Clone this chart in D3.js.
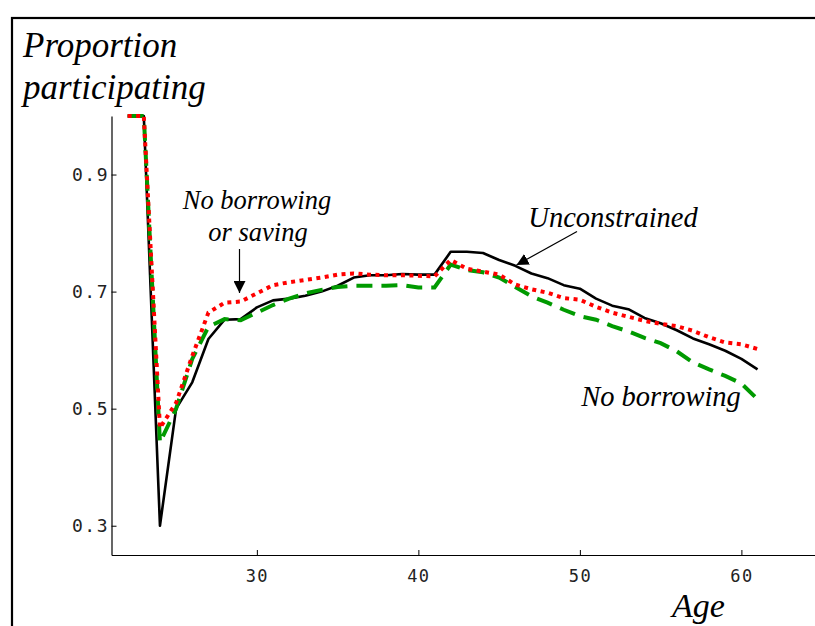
<!DOCTYPE html>
<html>
<head>
<meta charset="utf-8">
<script src="https://cdn.jsdelivr.net/npm/d3@7"></script>
<style>
  html, body { margin: 0; padding: 0; background: #fff; }
  svg { display: block; }
  .serif { font-family: "Liberation Serif", "Times New Roman", serif; font-style: italic; fill: #000; }
  .tick text { font-family: "DejaVu Sans Mono", monospace; fill: #222; }
</style>
</head>
<body>
<svg id="chart" width="815" height="626"></svg>
<script>
// Age of the household head
const ages = [22, 23, 24, 25, 26, 27, 28, 29, 30, 31, 32, 33, 34, 35, 36, 37, 38, 39, 40, 41,
              42, 43, 44, 45, 46, 47, 48, 49, 50, 51, 52, 53, 54, 55, 56, 57, 58, 59, 60, 61];

// Share of households participating in the stock market, by model
const unconstrained = [1.0, 1.0, 0.30, 0.50, 0.545, 0.619, 0.652, 0.653, 0.673, 0.685,
                       0.688, 0.693, 0.700, 0.710, 0.724, 0.728, 0.728, 0.730, 0.729, 0.729,
                       0.768, 0.768, 0.766, 0.754, 0.744, 0.731, 0.723, 0.711, 0.705, 0.688,
                       0.676, 0.670, 0.655, 0.646, 0.634, 0.620, 0.610, 0.599, 0.585, 0.567];

const noBorrowing = [1.0, 1.0, 0.442, 0.500, 0.585, 0.640, 0.653, 0.651, 0.664, 0.677,
                     0.688, 0.697, 0.703, 0.708, 0.710, 0.710, 0.710, 0.711, 0.707, 0.707,
                     0.746, 0.737, 0.733, 0.724, 0.708, 0.692, 0.681, 0.669, 0.658, 0.652,
                     0.641, 0.632, 0.621, 0.612, 0.598, 0.579, 0.567, 0.556, 0.543, 0.516];

const noBorrowingOrSaving = [1.0, 1.0, 0.467, 0.510, 0.590, 0.664, 0.681, 0.683, 0.697, 0.711,
                             0.716, 0.720, 0.724, 0.729, 0.731, 0.729, 0.728, 0.728, 0.727, 0.726,
                             0.754, 0.739, 0.734, 0.729, 0.712, 0.704, 0.698, 0.689, 0.686, 0.674,
                             0.664, 0.657, 0.650, 0.645, 0.641, 0.633, 0.622, 0.613, 0.610, 0.602];

const xTicks = [30, 40, 50, 60];
const yTicks = [0.3, 0.5, 0.7, 0.9];

const svg = d3.select("#chart");

// outer frame
svg.append("rect")
  .attr("x", 12).attr("y", 18)
  .attr("width", 830).attr("height", 640)
  .attr("fill", "none").attr("stroke", "#000").attr("stroke-width", 2.2);

const x = d3.scaleLinear().domain([21, 66]).range([111.5, 838.3]);
const y = d3.scaleLinear().domain([0.25, 1.0]).range([555, 116]);

// axes with inward ticks
const xAxis = d3.axisBottom(x).tickValues(xTicks).tickFormat(d3.format("d"))
  .tickSizeInner(-5).tickSizeOuter(0).tickPadding(15);
const yAxis = d3.axisLeft(y).tickValues(yTicks).tickFormat(d3.format(".1f"))
  .tickSizeInner(-5).tickSizeOuter(0).tickPadding(4);

const gx = svg.append("g").attr("transform", `translate(0,${y(0.25)})`).call(xAxis);
const gy = svg.append("g").attr("transform", `translate(${x(21)},0)`).call(yAxis);

[gx, gy].forEach(g => {
  g.select(".domain").attr("stroke", "#000").attr("stroke-width", 1.2);
  g.selectAll(".tick line").attr("stroke", "#000").attr("stroke-width", 1);
});
gx.selectAll(".tick text").attr("font-size", 17).attr("letter-spacing", 1.5);
gy.selectAll(".tick text").attr("font-size", 18).attr("letter-spacing", 1.5).attr("dx", 1.5);

// series
const line = d3.line().x((d, i) => x(ages[i])).y(d => y(d));

svg.append("path").datum(unconstrained)
  .attr("d", line).attr("fill", "none")
  .attr("stroke", "#000").attr("stroke-width", 2.6).attr("stroke-linejoin", "round");

svg.append("path").datum(noBorrowing)
  .attr("d", line).attr("fill", "none")
  .attr("stroke", "#009a00").attr("stroke-width", 4)
  .attr("stroke-dasharray", "16,9");

svg.append("path").datum(noBorrowingOrSaving)
  .attr("d", line).attr("fill", "none")
  .attr("stroke", "#ff0000").attr("stroke-width", 4)
  .attr("stroke-dasharray", "4,4.5");

// titles
svg.append("text").attr("class", "serif").attr("x", 23).attr("y", 57)
  .attr("font-size", 35).text("Proportion");
svg.append("text").attr("class", "serif").attr("x", 23).attr("y", 99)
  .attr("font-size", 35).text("participating");
svg.append("text").attr("class", "serif").attr("x", 672).attr("y", 617)
  .attr("font-size", 34).text("Age");

// annotations
svg.append("text").attr("class", "serif").attr("x", 257).attr("y", 209)
  .attr("text-anchor", "middle").attr("font-size", 26.5).text("No borrowing");
svg.append("text").attr("class", "serif").attr("x", 258).attr("y", 241)
  .attr("text-anchor", "middle").attr("font-size", 26.5).text("or saving");
svg.append("text").attr("class", "serif").attr("x", 613).attr("y", 227)
  .attr("text-anchor", "middle").attr("font-size", 28.5).text("Unconstrained");
svg.append("text").attr("class", "serif").attr("x", 661).attr("y", 406)
  .attr("text-anchor", "middle").attr("font-size", 28.5).text("No borrowing");

// arrows
const defs = svg.append("defs");
defs.append("marker").attr("id", "head")
  .attr("viewBox", "0 0 10 10").attr("refX", 10).attr("refY", 5)
  .attr("markerWidth", 12).attr("markerHeight", 12)
  .attr("markerUnits", "userSpaceOnUse").attr("orient", "auto")
  .append("path").attr("d", "M0,0 L10,5 L0,10 Z").attr("fill", "#000");

svg.append("line")
  .attr("x1", 239.5).attr("y1", 249).attr("x2", 239.5).attr("y2", 293)
  .attr("stroke", "#000").attr("stroke-width", 1.2).attr("marker-end", "url(#head)");
svg.append("line")
  .attr("x1", 577).attr("y1", 231.5).attr("x2", 516.5).attr("y2", 265)
  .attr("stroke", "#000").attr("stroke-width", 1.2).attr("marker-end", "url(#head)");
</script>
</body>
</html>
